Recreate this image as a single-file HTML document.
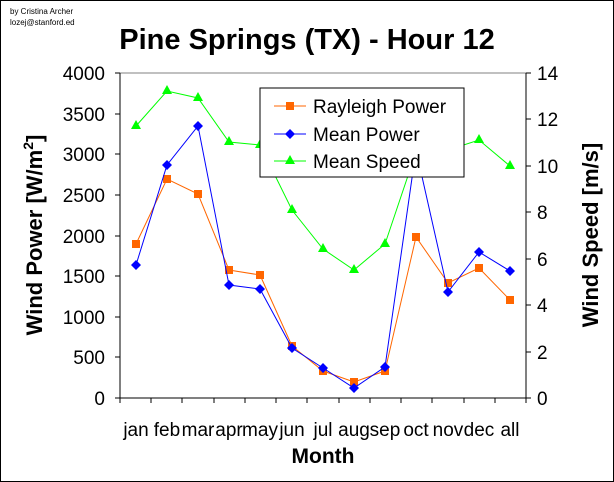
<!DOCTYPE html><html><head><style>body{margin:0;background:#fff}svg{display:block}text{font-family:"Liberation Sans",Arial,sans-serif}</style></head><body>
<svg width="614" height="482" viewBox="0 0 614 482">
<rect x="0.5" y="0.5" width="613" height="481" fill="#fff" stroke="#000"/>
<text x="10" y="14" font-size="8">by Cristina Archer</text>
<text x="10" y="25" font-size="8">lozej@stanford.ed</text>
<text x="307" y="49" font-size="29" font-weight="bold" text-anchor="middle">Pine Springs (TX) - Hour 12</text>
<g stroke="#000" fill="none">
<line x1="120" y1="73" x2="526" y2="73" stroke="#808080"/>
<line x1="120" y1="73" x2="120" y2="398"/><line x1="526" y1="73" x2="526" y2="398"/><line x1="115" y1="398" x2="531" y2="398"/>
<path d="M115 73h5M115 114h5M115 154h5M115 195h5M115 236h5M115 276h5M115 317h5M115 357h5"/>
<path d="M526 73h5M526 119h5M526 166h5M526 212h5M526 259h5M526 305h5M526 352h5"/>
<path d="M120 398v5M151 398v5M182 398v5M214 398v5M245 398v5M276 398v5M307 398v5M339 398v5M370 398v5M401 398v5M432 398v5M464 398v5M495 398v5M526 398v5"/>
</g>
<g font-size="19" text-anchor="end"><text x="105" y="80">4000</text><text x="105" y="121">3500</text><text x="105" y="161">3000</text><text x="105" y="202">2500</text><text x="105" y="243">2000</text><text x="105" y="283">1500</text><text x="105" y="324">1000</text><text x="105" y="364">500</text><text x="105" y="405">0</text></g>
<g font-size="19"><text x="537" y="80">14</text><text x="537" y="126">12</text><text x="537" y="173">10</text><text x="537" y="219">8</text><text x="537" y="266">6</text><text x="537" y="312">4</text><text x="537" y="359">2</text><text x="537" y="405">0</text></g>
<g font-size="19" text-anchor="middle"><text x="136" y="436">jan</text><text x="167" y="436">feb</text><text x="198" y="436">mar</text><text x="229" y="436">apr</text><text x="260" y="436">may</text><text x="292" y="436">jun</text><text x="323" y="436">jul</text><text x="354" y="436">aug</text><text x="385" y="436">sep</text><text x="416" y="436">oct</text><text x="448" y="436">nov</text><text x="479" y="436">dec</text><text x="510" y="436">all</text></g>
<text x="323" y="463" font-size="21" font-weight="bold" text-anchor="middle">Month</text>
<text transform="translate(42,235) rotate(-90)" font-size="22" font-weight="bold" text-anchor="middle">Wind Power [W/m<tspan font-size="14" dy="-9">2</tspan><tspan dy="9">]</tspan></text>
<text transform="translate(598,235) rotate(-90)" font-size="22" font-weight="bold" text-anchor="middle">Wind Speed [m/s]</text>
<polyline fill="none" stroke="#00ff00" points="136,126 167,91 198,98 229,142 260,145 292,210 323,249 354,270 385,244 416,152 448,150 479,140 510,166"/>
<g fill="#00ff00"><path d="M136,120l5,9h-10zM167,85l5,9h-10zM198,92l5,9h-10zM229,136l5,9h-10zM260,139l5,9h-10zM292,204l5,9h-10zM323,243l5,9h-10zM354,264l5,9h-10zM385,238l5,9h-10zM416,146l5,9h-10zM448,144l5,9h-10zM479,134l5,9h-10zM510,160l5,9h-10z"/></g>
<polyline fill="none" stroke="#ff6600" points="136,244 167,179 198,194 229,270 260,275 292,346 323,371 354,382 385,371 416,237 448,283 479,268 510,300"/>
<g fill="#ff6600"><rect x="132" y="240" width="8" height="8"/><rect x="163" y="175" width="8" height="8"/><rect x="194" y="190" width="8" height="8"/><rect x="225" y="266" width="8" height="8"/><rect x="256" y="271" width="8" height="8"/><rect x="288" y="342" width="8" height="8"/><rect x="319" y="367" width="8" height="8"/><rect x="350" y="378" width="8" height="8"/><rect x="381" y="367" width="8" height="8"/><rect x="412" y="233" width="8" height="8"/><rect x="444" y="279" width="8" height="8"/><rect x="475" y="264" width="8" height="8"/><rect x="506" y="296" width="8" height="8"/></g>
<polyline fill="none" stroke="#0000ff" points="136,265 167,165 198,126 229,285 260,289 292,348 323,368 354,388 385,367 416,150 448,292 479,252 510,271"/>
<g fill="#0000ff"><path d="M136,260l5,5-5,5-5-5zM167,160l5,5-5,5-5-5zM198,121l5,5-5,5-5-5zM229,280l5,5-5,5-5-5zM260,284l5,5-5,5-5-5zM292,343l5,5-5,5-5-5zM323,363l5,5-5,5-5-5zM354,383l5,5-5,5-5-5zM385,362l5,5-5,5-5-5zM416,145l5,5-5,5-5-5zM448,287l5,5-5,5-5-5zM479,247l5,5-5,5-5-5zM510,266l5,5-5,5-5-5z"/></g>
<rect x="260" y="88" width="204" height="89" fill="#fff" stroke="#000"/>
<g font-size="19">
<line x1="274" y1="106" x2="306" y2="106" stroke="#ff6600"/><rect x="286" y="102" width="8" height="8" fill="#ff6600"/><text x="313" y="113">Rayleigh Power</text>
<line x1="274" y1="134" x2="306" y2="134" stroke="#0000ff"/><path d="M290,129l5,5-5,5-5-5z" fill="#0000ff"/><text x="313" y="141">Mean Power</text>
<line x1="274" y1="161" x2="306" y2="161" stroke="#00ff00"/><path d="M290,155l5,9h-10z" fill="#00ff00"/><text x="313" y="168">Mean Speed</text>
</g>
</svg></body></html>
